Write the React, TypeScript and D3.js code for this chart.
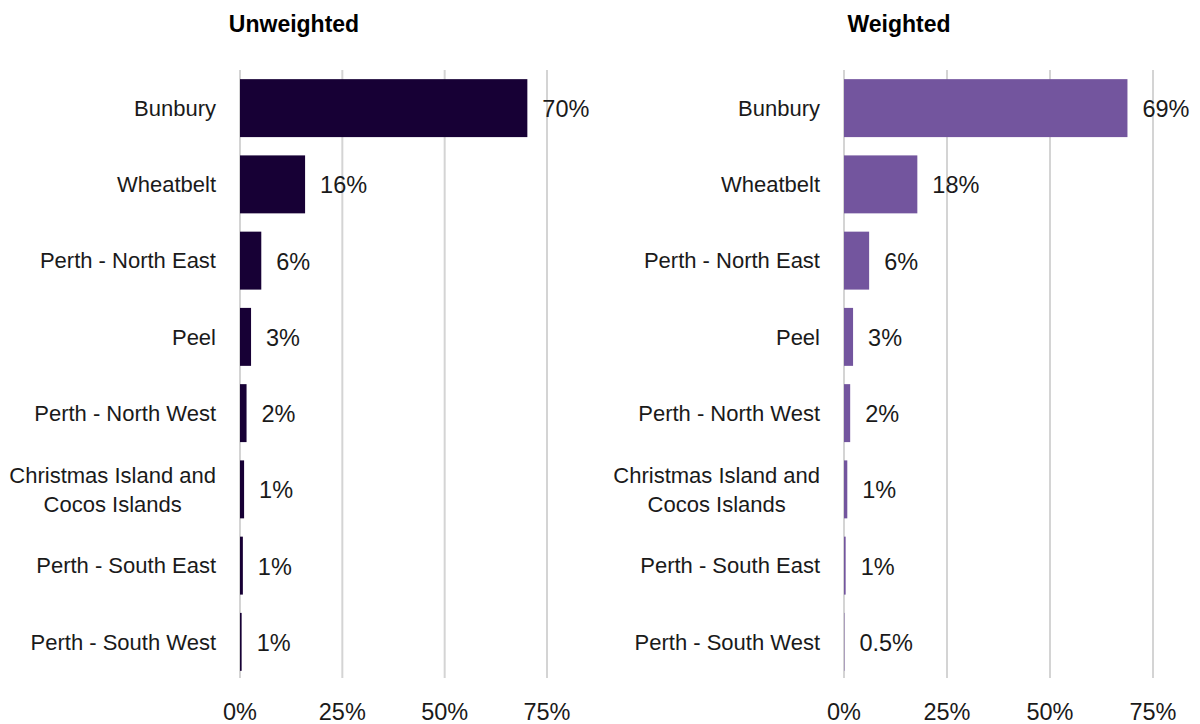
import React, { useEffect, useRef } from "react";
import * as d3 from "d3";

const categories = [
  "Bunbury",
  "Wheatbelt",
  "Perth - North East",
  "Peel",
  "Perth - North West",
  "Christmas Island and|Cocos Islands",
  "Perth - South East",
  "Perth - South West",
];
const unweightedValues = [70.2, 15.9, 5.2, 2.7, 1.6, 1.0, 0.7, 0.4];
const unweightedLabels = ["70%", "16%", "6%", "3%", "2%", "1%", "1%", "1%"];
const weightedValues = [68.8, 17.8, 6.1, 2.2, 1.5, 0.8, 0.4, 0.1];
const weightedLabels = ["69%", "18%", "6%", "3%", "2%", "1%", "1%", "0.5%"];
const xTicks = [0, 25, 50, 75];
const panelTitles = ["Unweighted", "Weighted"];

const W = 1200;
const H = 724;
const FONT = "'Liberation Sans', Arial, sans-serif";

export default function App() {
  const ref = useRef<SVGSVGElement>(null);
  useEffect(() => {
    const svg = d3.select(ref.current);
    svg.selectAll("*").remove();
    const panels = [
      { title: panelTitles[0], values: unweightedValues, labels: unweightedLabels, color: "#170035", range: [240, 547], titleX: 294 },
      { title: panelTitles[1], values: weightedValues, labels: weightedLabels, color: "#73559e", range: [844, 1153], titleX: 899 },
    ];
    const y = d3.scaleBand<string>().domain(categories).range([70, 680]).paddingInner(0.24).paddingOuter(0.12);
    panels.forEach((p) => {
      const x = d3.scaleLinear().domain([0, 75]).range(p.range);
      const g = svg.append("g");
      g.append("text")
        .attr("x", p.titleX).attr("y", 24).attr("dy", "0.35em")
        .attr("text-anchor", "middle").attr("font-family", FONT)
        .attr("font-weight", "bold").attr("font-size", 23).attr("fill", "#000")
        .text(p.title);
      g.selectAll(".grid").data(xTicks).enter().append("line")
        .attr("x1", (d) => x(d)).attr("x2", (d) => x(d))
        .attr("y1", 70).attr("y2", 678)
        .attr("stroke", "#d4d4d4").attr("stroke-width", 2);
      g.selectAll(".tick").data(xTicks).enter().append("text")
        .attr("x", (d) => x(d)).attr("y", 712).attr("dy", "0.35em")
        .attr("text-anchor", "middle").attr("font-family", FONT)
        .attr("font-size", 23.5).attr("fill", "#1a1a1a")
        .text((d) => d + "%");
      g.selectAll(".bar").data(categories).enter().append("rect")
        .attr("x", x(0))
        .attr("y", (d) => y(d)!)
        .attr("width", (d, i) => x(p.values[i]) - x(0))
        .attr("height", y.bandwidth())
        .attr("fill", p.color);
      g.selectAll(".val").data(categories).enter().append("text")
        .attr("x", (d, i) => x(p.values[i]) + 15)
        .attr("y", (d) => y(d)! + y.bandwidth() / 2)
        .attr("dy", "0.38em")
        .attr("font-family", FONT).attr("font-size", 23.5).attr("fill", "#1a1a1a")
        .text((d, i) => p.labels[i]);
      const labelRight = x(0) - 24;
      categories.forEach((c) => {
        const lines = c.split("|");
        const cy = y(c)! + y.bandwidth() / 2;
        const t = g.append("text")
          .attr("font-family", FONT).attr("font-size", 22).attr("fill", "#1a1a1a");
        const lh = 29;
        const spans = lines.map((ln, li) =>
          t.append("tspan").attr("y", cy + (li - (lines.length - 1) / 2) * lh).attr("dy", "0.35em").text(ln)
        );
        const widths = spans.map((s) => (s.node() as SVGTSpanElement).getComputedTextLength());
        const maxW = Math.max(...widths);
        spans.forEach((s, li) => {
          s.attr("x", labelRight - maxW / 2 - widths[li] / 2);
        });
      });
    });
  }, []);
  return <svg ref={ref} width={W} height={H} style={{ display: "block", position: "absolute", left: 0, top: 0, background: "#fff" }} />;
}
